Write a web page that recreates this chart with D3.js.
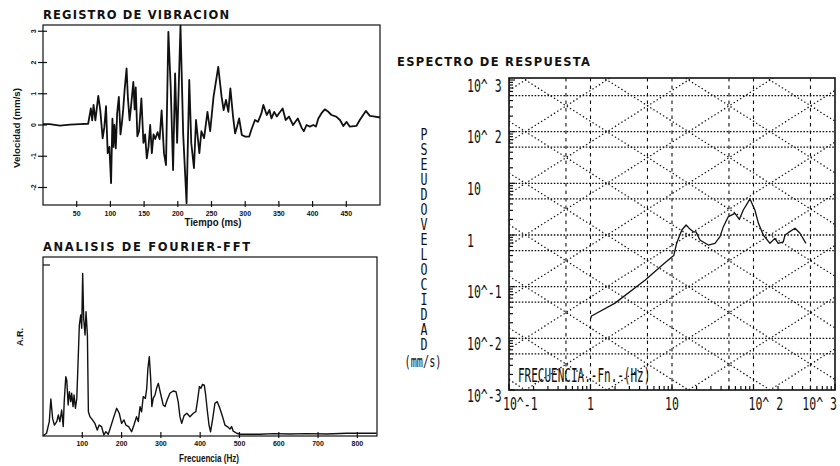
<!DOCTYPE html>
<html><head><meta charset="utf-8">
<script src="https://cdn.jsdelivr.net/npm/d3@7"></script>
<style>body{margin:0;background:#fff} svg{display:block}</style>
</head><body>
<svg id="c" width="840" height="466"></svg>
<script>
// ---------- DATA ----------
const tiempoMs = [0,10,25,40,55,67,71,73,75,77.7,82,85,88.5,91,93.5,96,98.5,101,103,104.5,106,108,110,112.5,115,117,119,121,124,126,128.5,131,134,136,137.6,140,142.5,146,149,151.5,154,156.5,159,161.5,164,166.5,170,173,176,179.5,182.5,186,189.5,193,196,199,204,208,213,217,220,224,227,232,235,239,244,248,253,260,265,268,271.5,275,278,282,285,288,291,295,300,306,309,314.5,319,324,327,332,336,339,343,347,350,355.6,360,365,371,378,384,387,391,396,401,405,408.5,413,418,423,428,435,440.6,445.6,450.5,455,465,470,479,485,492.6,500];
const velocidad = [0.03,0.03,-0.02,0.01,0.03,0.04,0.53,0.15,0.64,0.15,0.93,0.47,-0.43,-0.07,0.6,-0.9,-0.7,-1.86,0.2,-0.7,0,-0.75,0.37,0.9,-0.3,0.05,0.5,1.1,1.81,0.85,0.15,0.68,1.38,0.5,1.2,-0.36,-0.2,0.85,-0.57,-0.3,-1.07,-0.7,0,-0.9,-0.3,-0.45,-0.23,-0.45,0.47,-0.9,-1.28,2.98,1.2,-1.44,1.65,-0.57,3.18,-0.3,-2.5,1.44,-0.58,-1.38,0.16,-0.9,-0.2,-0.42,0.42,-0.2,0.9,1.86,0.9,0.48,0.8,0.42,1.17,0.27,-0.27,-0.05,0.21,-0.32,-0.37,-0.37,-0.16,0.16,0.1,0.37,0.64,0.32,0.48,0.21,0.42,0.27,0.37,0.53,0.16,0.27,0,0.21,-0.1,-0.2,0,-0.05,0,-0.05,0.21,0.37,0.5,0.43,0.32,0.27,0.16,-0.03,0.1,-0.05,-0.03,0.16,0.45,0.29,0.27,0.24];
const velTicks = [3,2,1,0,-1,-2];
const tiempoTicks = [50,100,150,200,250,300,350,400,450];

const fftFreq = [1,3,9,16,20,24.5,29,35,39,43,47.5,51.5,54,58,60.5,64,67,70.5,73,76.5,79,82.5,86,89,92.5,96,98.5,101,103.5,107,109.5,113,115.5,119.5,126,132,138,143,149,155,160,166,170.5,179,187.5,194,200,206,211,218,225.5,231.5,238,242.5,247,251,255,260.5,264,267,270.5,274,277,280.5,285,289,293.5,299,306,310.5,316,323,331.5,338.5,344,348.5,353,359,366,374,382.5,389,393.5,398,402,406,410.5,414,418,422.5,426.5,432,437.5,443.5,450,457,463,469,476,480,484,493,501,518,552,586,628,671,722,773,824,849];
const fftAmp = [0,0.006,0.016,0.084,0.216,0.103,0.064,0.084,0.123,0.084,0.152,0.055,0.201,0.347,0.327,0.181,0.259,0.201,0.25,0.172,0.24,0.162,0.22,0.415,0.649,0.708,0.63,0.951,0.688,0.591,0.727,0.591,0.142,0.113,0.094,0.074,0.035,0.064,0.055,0.006,0.025,0.01,0.041,0.103,0.162,0.133,0.074,0.094,0.064,0.055,0.025,0.064,0.113,0.084,0.172,0.142,0.23,0.22,0.279,0.396,0.464,0.337,0.172,0.22,0.24,0.279,0.308,0.25,0.181,0.172,0.211,0.25,0.263,0.259,0.201,0.113,0.074,0.119,0.133,0.113,0.133,0.142,0.211,0.289,0.279,0.302,0.298,0.24,0.152,0.064,0.025,0.103,0.191,0.201,0.162,0.113,0.064,0.055,0.041,0.055,0.029,0.016,0.01,0.01,0.01,0.014,0.012,0.014,0.012,0.016,0.016,0.016];
const fftTicks = [100,200,300,400,500,600,700,800];

const espFreq = [1.0,1.03,2.0,4.7,8,10.5,11.4,13.2,14.9,16.6,18.3,19.7,22,27.9,33.7,38.8,42.7,49,59.3,67,75,90.6,104,115,132,159,183,201,232,244,267,323,372,440];
const espPsv = [0.024,0.027,0.048,0.135,0.28,0.4,0.69,1.25,1.56,1.3,1.15,1.15,0.8,0.64,0.69,0.93,1.45,2.26,2.62,2.0,3.05,5.0,3.05,1.68,1.0,0.69,0.86,0.69,0.74,1.0,1.11,1.35,1.08,0.69];
const espXTickVals = [0.1,1,10,100,1000];
const espXTickLabels = ["10^-1","1","10","10^ 2","10^ 3"];
const espYTickVals = [1000,100,10,1,0.1,0.01,0.001];
const espYTickLabels = ["10^ 3","10^ 2","10","1","10^-1","10^-2","10^-3"];
const espGridVals = [0.005,0.01,0.05,0.1,0.5,1,5,10,50,100,500];
const despExps = [-6,-5,-4,-3,-2,-1,0,1,2,3];      // displacement lines D = 10^n mm
const acelExps = [-3,-2,-1,0,1,2,3,4,5,6];         // acceleration lines A = 10^n mm/s2
const ejeVertical = "PSEUDOVELOCIDAD";

// ---------- DRAW ----------
const svg = d3.select("#c");
const INK = "#111";
const SANS = "'Liberation Sans', Arial, sans-serif";
const MONO = "'DejaVu Sans Mono', monospace";

function title(x, y, s, len) {
  svg.append("text").attr("x", x).attr("y", y).attr("font-family", "'DejaVu Sans', sans-serif")
    .attr("font-weight", "bold").attr("font-size", 11.5).attr("fill", INK)
    .attr("textLength", len).attr("lengthAdjust", "spacing").text(s);
}

// ===== Panel 1: Registro de vibracion =====
const x1 = d3.scaleLinear().domain([0, 500]).range([43, 380]);
const y1 = d3.scaleLinear().domain([-2.56, 3.2]).range([205, 25]);
title(43, 19, "REGISTRO DE VIBRACION", 186);
svg.append("rect").attr("x", x1(0)).attr("y", y1(3.2)).attr("width", x1(500) - x1(0))
  .attr("height", y1(-2.56) - y1(3.2)).attr("fill", "none").attr("stroke", INK).attr("stroke-width", 1.2);
svg.append("path").datum(d3.range(tiempoMs.length))
  .attr("d", d3.line().x(i => x1(tiempoMs[i])).y(i => y1(velocidad[i])))
  .attr("fill", "none").attr("stroke", INK).attr("stroke-width", 1.8).attr("stroke-linejoin", "round");
velTicks.forEach(v => {
  svg.append("line").attr("x1", x1(0) - 5).attr("x2", x1(0) + 4).attr("y1", y1(v)).attr("y2", y1(v))
    .attr("stroke", INK).attr("stroke-width", 1.2);
  svg.append("text").attr("transform", `translate(${x1(0) - 7},${y1(v)}) rotate(-90)`)
    .attr("text-anchor", "middle").attr("font-family", SANS).attr("font-weight", "bold")
    .attr("font-size", 7).attr("fill", INK).text(v);
});
tiempoTicks.forEach(t => {
  svg.append("line").attr("x1", x1(t)).attr("x2", x1(t)).attr("y1", y1(-2.56) - 4).attr("y2", y1(-2.56) + 2)
    .attr("stroke", INK).attr("stroke-width", 1.2);
  svg.append("text").attr("x", x1(t)).attr("y", y1(-2.56) + 11).attr("text-anchor", "middle")
    .attr("font-family", SANS).attr("font-weight", "bold").attr("font-size", 7).attr("fill", INK).text(t);
});
svg.append("text").attr("x", 213).attr("y", 226).attr("text-anchor", "middle").attr("font-family", SANS)
  .attr("font-weight", "bold").attr("font-size", 10).attr("fill", INK)
  .attr("textLength", 57).attr("lengthAdjust", "spacingAndGlyphs").text("Tiempo (ms)");
svg.append("text").attr("transform", "translate(20,128) rotate(-90)").attr("text-anchor", "middle")
  .attr("font-family", SANS).attr("font-weight", "bold").attr("font-size", 9.5).attr("fill", INK)
  .attr("textLength", 80).attr("lengthAdjust", "spacingAndGlyphs").text("Velocidad (mm/s)");

// ===== Panel 2: FFT =====
const x2 = d3.scaleLinear().domain([0, 850]).range([43, 377]);
const y2 = d3.scaleLinear().domain([0, 1]).range([436, 265]);
title(43, 251, "ANALISIS DE FOURIER-FFT", 207);
svg.append("rect").attr("x", x2(0)).attr("y", 257).attr("width", x2(850) - x2(0))
  .attr("height", y2(0) - 257).attr("fill", "none").attr("stroke", INK).attr("stroke-width", 1.2);
svg.append("path").datum(d3.range(fftFreq.length))
  .attr("d", d3.line().x(i => x2(fftFreq[i])).y(i => y2(fftAmp[i])))
  .attr("fill", "none").attr("stroke", INK).attr("stroke-width", 1.4).attr("stroke-linejoin", "round");
svg.append("line").attr("x1", x2(0)).attr("x2", x2(0) + 7).attr("y1", y2(1)).attr("y2", y2(1))
  .attr("stroke", INK).attr("stroke-width", 1.2);
fftTicks.forEach(f => {
  svg.append("line").attr("x1", x2(f)).attr("x2", x2(f)).attr("y1", y2(0) - 4).attr("y2", y2(0) + 2)
    .attr("stroke", INK).attr("stroke-width", 1.2);
  svg.append("text").attr("x", x2(f)).attr("y", y2(0) + 10).attr("text-anchor", "middle")
    .attr("font-family", SANS).attr("font-weight", "bold").attr("font-size", 7).attr("fill", INK).text(f);
});
svg.append("text").attr("x", 209).attr("y", 462).attr("text-anchor", "middle").attr("font-family", SANS)
  .attr("font-weight", "bold").attr("font-size", 10).attr("fill", INK)
  .attr("textLength", 60).attr("lengthAdjust", "spacingAndGlyphs").text("Frecuencia (Hz)");
svg.append("text").attr("transform", "translate(23,337) rotate(-90)").attr("text-anchor", "middle")
  .attr("font-family", SANS).attr("font-weight", "bold").attr("font-size", 9).attr("fill", INK).text("A.R.");

// ===== Panel 3: Espectro de respuesta =====
const x3 = d3.scaleLog().domain([0.1, 1000]).range([509, 835]);
const y3 = d3.scaleLog().domain([0.001, 1000]).range([390, 80]);
title(397, 66, "ESPECTRO DE RESPUESTA", 193);

const defs = svg.append("defs");
defs.append("clipPath").attr("id", "clip3").append("rect")
  .attr("x", x3(0.1)).attr("y", y3(1000) - 2).attr("width", x3(1000) - x3(0.1)).attr("height", y3(0.001) - y3(1000) + 2);
const g3 = svg.append("g").attr("clip-path", "url(#clip3)");

espGridVals.forEach(f => {
  g3.append("line").attr("x1", x3(f)).attr("x2", x3(f)).attr("y1", y3(1000) - 2).attr("y2", y3(0.001))
    .attr("stroke", INK).attr("stroke-width", 1.1).attr("stroke-dasharray", "3.5,4");
});
espGridVals.forEach(v => {
  g3.append("line").attr("x1", x3(0.1)).attr("x2", x3(1000)).attr("y1", y3(v)).attr("y2", y3(v))
    .attr("stroke", INK).attr("stroke-width", 1.3).attr("stroke-dasharray", "1.6,1.6");
});
const fEnds = [0.1, 1000];
const diag = d3.line().x(d => x3(d[0])).y(d => y3(d[1]));
despExps.forEach(n => {
  const pts = fEnds.map(f => [f, 2 * Math.PI * f * Math.pow(10, n)]);
  g3.append("path").attr("d", diag(pts)).attr("fill", "none").attr("stroke", INK)
    .attr("stroke-width", 1.25).attr("stroke-dasharray", "1.4,2.4");
});
acelExps.forEach(n => {
  const pts = fEnds.map(f => [f, Math.pow(10, n) / (2 * Math.PI * f)]);
  g3.append("path").attr("d", diag(pts)).attr("fill", "none").attr("stroke", INK)
    .attr("stroke-width", 1.25).attr("stroke-dasharray", "1.4,2.4");
});
g3.append("path").datum(d3.range(espFreq.length))
  .attr("d", d3.line().x(i => x3(espFreq[i])).y(i => y3(espPsv[i])))
  .attr("fill", "none").attr("stroke", INK).attr("stroke-width", 1.3).attr("stroke-linejoin", "round");

svg.append("rect").attr("x", x3(0.1)).attr("y", y3(1000) - 2).attr("width", x3(1000) - x3(0.1))
  .attr("height", y3(0.001) - y3(1000) + 2).attr("fill", "none").attr("stroke", INK).attr("stroke-width", 1.6);

y3.ticks(60).forEach(v => {
  const major = Math.abs(Math.log10(v) - Math.round(Math.log10(v))) < 1e-6;
  svg.append("line").attr("x1", x3(0.1)).attr("x2", x3(0.1) + (major ? 6 : 4)).attr("y1", y3(v)).attr("y2", y3(v))
    .attr("stroke", INK).attr("stroke-width", 1.2);
});
x3.ticks(40).forEach(f => {
  const major = Math.abs(Math.log10(f) - Math.round(Math.log10(f))) < 1e-6;
  svg.append("line").attr("x1", x3(f)).attr("x2", x3(f)).attr("y1", y3(0.001)).attr("y2", y3(0.001) - (major ? 6 : 4))
    .attr("stroke", INK).attr("stroke-width", 1.2);
});

function mono(x, y, s, anchor, size, sx) {
  return svg.append("text").attr("transform", `translate(${x},${y}) scale(${sx},1)`)
    .attr("text-anchor", anchor).attr("font-family", MONO).attr("font-size", size).attr("fill", INK).text(s);
}
espYTickVals.forEach((v, i) => mono(467, y3(v) + 11.5, espYTickLabels[i], "start", 18, 0.64));
espXTickVals.forEach((f, i) => {
  const s = espXTickLabels[i];
  let anchor = "middle", dx = 0;
  if (i === 0) { anchor = "start"; dx = -6; }
  else if (i === espXTickVals.length - 1) { anchor = "end"; dx = 2; }
  else if (s.length > 2) { anchor = "start"; dx = -5; }
  mono(x3(f) + dx, 409.5, s, anchor, 18, 0.64);
});
mono(518, 382, "FRECUENCIA.-Fn.-(Hz)", "start", 20, 0.55);
// vertical stacked axis title, one text element, upright letters
svg.append("text").attr("transform", "translate(424,125) scale(0.75,1)")
  .attr("font-family", MONO).attr("font-size", 15.5).attr("fill", INK)
  .attr("letter-spacing", -3.1)
  .style("writing-mode", "vertical-rl").style("text-orientation", "upright")
  .attr("text-anchor", "start").text(ejeVertical);
mono(423, 367, "(mm/s)", "middle", 15, 0.68);
</script>
</body></html>
